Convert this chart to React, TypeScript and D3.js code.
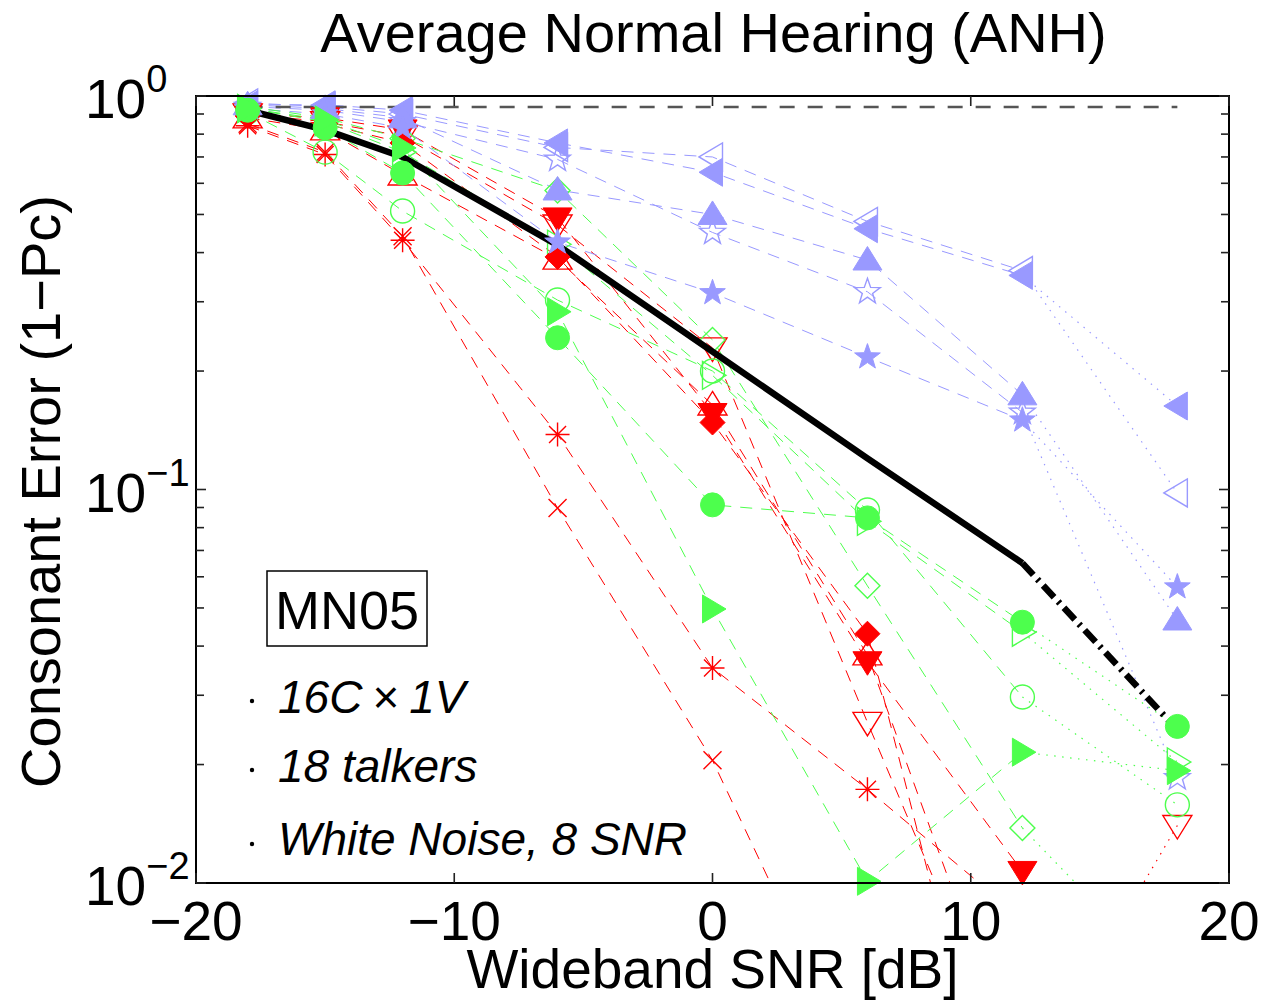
import React from 'react';
import * as d3 from 'd3';

// ---------------- data ----------------
const SNR = [-18, -15, -12, -6, 0, 6, 12, 18];
const X_TICKS = [-20, -10, 0, 10, 20];
const X_TICK_LABELS = ['\u221220', '\u221210', '0', '10', '20'];
const Y_DECADES = [1, 0.1, 0.01];
const Y_TICK_EXPONENTS = ['0', '\u22121', '\u22122'];
const CHANCE_ERROR = 15 / 16;

const AVERAGE = [0.92, 0.82, 0.7, 0.418, 0.224, 0.12, 0.065, 0.0245];

// red consonants
const RED_DOWN_FILLED = [0.9, 0.88, 0.82, 0.49, 0.156, 0.0365, 0.0107, null];
const RED_DOWN_OPEN = [0.9, 0.86, 0.79, 0.47, 0.229, 0.0256, 0.003, 0.014];
const RED_DIAMOND_FILLED = [0.89, 0.85, 0.76, 0.39, 0.148, 0.043, 0.0012, null];
const RED_UP_OPEN = [0.88, 0.82, 0.63, 0.385, 0.164, 0.038, 0.0031, null];
const RED_ASTERISK = [0.84, 0.71, 0.43, 0.138, 0.0352, 0.0173, 0.0081, null];
const RED_CROSS = [0.85, 0.72, 0.44, 0.0897, 0.0205, 0.003, null, null];

// blue consonants
const BLUE_LEFT_FILLED = [0.95, 0.95, 0.92, 0.76, 0.64, 0.46, 0.35, 0.163];
const BLUE_LEFT_OPEN = [0.96, 0.94, 0.9, 0.74, 0.7, 0.48, 0.36, 0.098];
const BLUE_UP_FILLED = [0.95, 0.93, 0.88, 0.577, 0.5, 0.383, 0.174, 0.0466];
const BLUE_STAR_OPEN = [0.94, 0.92, 0.86, 0.69, 0.45, 0.318, 0.157, 0.0185];
const BLUE_STAR_FILLED = [0.93, 0.9, 0.83, 0.425, 0.316, 0.217, 0.15, 0.0565];

// green consonants
const GREEN_CIRCLE_FILLED = [0.92, 0.83, 0.637, 0.243, 0.0914, 0.0847, 0.046, 0.025];
const GREEN_CIRCLE_OPEN = [0.91, 0.72, 0.51, 0.303, 0.2, 0.0887, 0.0297, 0.0158];
const GREEN_RIGHT_FILLED = [0.93, 0.87, 0.738, 0.283, 0.0497, 0.0101, 0.0215, 0.0193];
const GREEN_RIGHT_OPEN = [0.93, 0.86, 0.72, 0.42, 0.195, 0.083, 0.0434, 0.0203];
const GREEN_DIAMOND_OPEN = [0.94, 0.88, 0.78, 0.575, 0.24, 0.0569, 0.0138, 0.0054];

const RED = '#ff0000';
const BLUE = '#9999ff';
const GREEN = '#4dff4d';

type Series = { values: (number | null)[]; color: string; shape: string; filled: boolean };

const SERIES: Series[] = [
  { values: RED_DOWN_FILLED, color: RED, shape: 'down', filled: true },
  { values: RED_DOWN_OPEN, color: RED, shape: 'down', filled: false },
  { values: RED_DIAMOND_FILLED, color: RED, shape: 'diamond', filled: true },
  { values: RED_UP_OPEN, color: RED, shape: 'up', filled: false },
  { values: RED_ASTERISK, color: RED, shape: 'asterisk', filled: false },
  { values: RED_CROSS, color: RED, shape: 'cross', filled: false },
  { values: BLUE_LEFT_FILLED, color: BLUE, shape: 'left', filled: true },
  { values: BLUE_LEFT_OPEN, color: BLUE, shape: 'left', filled: false },
  { values: BLUE_UP_FILLED, color: BLUE, shape: 'up', filled: true },
  { values: BLUE_STAR_OPEN, color: BLUE, shape: 'star', filled: false },
  { values: BLUE_STAR_FILLED, color: BLUE, shape: 'star', filled: true },
  { values: GREEN_CIRCLE_FILLED, color: GREEN, shape: 'circle', filled: true },
  { values: GREEN_CIRCLE_OPEN, color: GREEN, shape: 'circle', filled: false },
  { values: GREEN_RIGHT_FILLED, color: GREEN, shape: 'right', filled: true },
  { values: GREEN_RIGHT_OPEN, color: GREEN, shape: 'right', filled: false },
  { values: GREEN_DIAMOND_OPEN, color: GREEN, shape: 'diamond', filled: false },
];

// ---------------- layout ----------------
const W = 1262;
const H = 1002;
const L = 196;
const R = 1229;
const T = 96;
const B = 883;
const FONT = "'Liberation Sans', Arial, Helvetica, sans-serif";

const x = d3.scaleLinear().domain([-20, 20]).range([L, R]);
const y = d3.scaleLog().domain([0.01, 1]).range([B, T]);

function starPath(ro: number, ri: number) {
  const pts: string[] = [];
  for (let i = 0; i < 10; i++) {
    const a = -Math.PI / 2 + (i * Math.PI) / 5;
    const r = i % 2 === 0 ? ro : ri;
    pts.push(`${(r * Math.cos(a)).toFixed(2)},${(r * Math.sin(a)).toFixed(2)}`);
  }
  return 'M' + pts.join('L') + 'Z';
}

function shapePath(shape: string): string {
  switch (shape) {
    case 'up':
      return 'M0,-13.5L14.5,10L-14.5,10Z';
    case 'down':
      return 'M0,13.5L14.5,-10L-14.5,-10Z';
    case 'left':
      return 'M-13.5,0L10,-14L10,14Z';
    case 'right':
      return 'M13.5,0L-10,-14L-10,14Z';
    case 'diamond':
      return 'M0,-12.5L12.5,0L0,12.5L-12.5,0Z';
    case 'circle':
      return d3.arc()({ innerRadius: 0, outerRadius: 12, startAngle: 0, endAngle: 2 * Math.PI }) as string;
    case 'star':
      return starPath(13.5, 5.4);
    case 'asterisk':
      return 'M0,-12L0,12M-12,0L12,0M-8.5,-8.5L8.5,8.5M-8.5,8.5L8.5,-8.5';
    case 'cross':
      return 'M-9,-9L9,9M-9,9L9,-9';
    default:
      return '';
  }
}

type Pt = [number, number | null];

const lineGen = d3
  .line<Pt>()
  .defined((d) => d[1] != null)
  .x((d) => x(d[0]))
  .y((d) => y(d[1] as number));

function pts(values: (number | null)[]): Pt[] {
  return SNR.map((s, i) => [s, values[i]] as Pt);
}

function inRange(v: number | null) {
  return v != null && v >= 0.01 && v <= 1;
}

export default function App() {
  const minorTicks: number[] = [];
  [0.01, 0.1].forEach((d) => {
    for (let k = 2; k <= 9; k++) minorTicks.push(d * k);
  });

  const markers = (s: Series, si: number) =>
    pts(s.values)
      .filter((p) => inRange(p[1]))
      .map((p, i) => (
        <path
          key={`m${si}-${i}`}
          d={shapePath(s.shape)}
          transform={`translate(${x(p[0])},${y(p[1] as number)})`}
          fill={s.filled && s.shape !== 'asterisk' && s.shape !== 'cross' ? s.color : 'none'}
          stroke={s.color}
          strokeWidth={s.filled ? 1 : 1.4}
        />
      ));

  const avgPts = pts(AVERAGE);

  return (
    <svg
      width={W}
      height={H}
      style={{ position: 'absolute', left: 0, top: 0, background: '#fff' }}
      fontFamily={FONT}
    >
      <defs>
        <clipPath id="plotclip">
          <rect x={L} y={T} width={R - L} height={B - T} />
        </clipPath>
      </defs>
      <rect x={0} y={0} width={W} height={H} fill="#fff" />

      {/* series lines */}
      <g clipPath="url(#plotclip)" fill="none">
        {SERIES.map((s, si) => {
          const p = pts(s.values);
          return (
            <g key={`l${si}`}>
              <path d={lineGen(p.slice(0, 7)) || ''} stroke={s.color} strokeWidth={1} strokeDasharray="12,9" />
              <path d={lineGen(p.slice(6, 8)) || ''} stroke={s.color} strokeWidth={1.2} strokeDasharray="1.5,6.5" />
            </g>
          );
        })}
      </g>

      {/* open markers */}
      <g>{SERIES.map((s, si) => (s.filled ? null : markers(s, si)))}</g>

      {/* chance line and average */}
      <g clipPath="url(#plotclip)" fill="none">
        <line
          x1={x(SNR[0])}
          x2={x(SNR[SNR.length - 1])}
          y1={y(CHANCE_ERROR)}
          y2={y(CHANCE_ERROR)}
          stroke="#555"
          strokeWidth={2.5}
          strokeDasharray="15,13"
        />
        <path d={lineGen(avgPts.slice(0, 7)) || ''} stroke="#000" strokeWidth={6.5} strokeLinejoin="round" />
        <path d={lineGen(avgPts.slice(6, 8)) || ''} stroke="#000" strokeWidth={6.5} strokeDasharray="16,6,2.5,6" />
      </g>

      {/* filled markers */}
      <g>{SERIES.map((s, si) => (s.filled ? markers(s, si) : null))}</g>

      {/* frame */}
      <rect x={L} y={T} width={R - L} height={B - T} fill="none" stroke="#000" strokeWidth={2} />
      <g stroke="#222" strokeWidth={1.6}>
        {X_TICKS.map((t) => (
          <g key={`xt${t}`}>
            <line x1={x(t)} x2={x(t)} y1={B} y2={B - 10} />
            <line x1={x(t)} x2={x(t)} y1={T} y2={T + 10} />
          </g>
        ))}
        {Y_DECADES.map((t) => (
          <g key={`yt${t}`}>
            <line x1={L} x2={L + 10} y1={y(t)} y2={y(t)} />
            <line x1={R} x2={R - 10} y1={y(t)} y2={y(t)} />
          </g>
        ))}
        {minorTicks.map((t) => (
          <g key={`ym${t}`}>
            <line x1={L} x2={L + 8} y1={y(t)} y2={y(t)} />
            <line x1={R} x2={R - 8} y1={y(t)} y2={y(t)} />
          </g>
        ))}
      </g>

      {/* tick labels */}
      <g fontSize={55} fill="#000" textAnchor="middle">
        {X_TICKS.map((t, i) => (
          <text key={`xl${t}`} x={x(t)} y={940}>
            {X_TICK_LABELS[i]}
          </text>
        ))}
      </g>
      <g fill="#000">
        {Y_DECADES.map((t, i) => (
          <text key={`yl${t}`} x={85} y={y(t) + 22} fontSize={55}>
            10
            <tspan dy={-26} fontSize={38}>
              {Y_TICK_EXPONENTS[i]}
            </tspan>
          </text>
        ))}
      </g>

      {/* titles */}
      <text x={(L + R) / 2 + 1} y={52} fontSize={56} textAnchor="middle">
        Average Normal Hearing (ANH)
      </text>
      <text x={(L + R) / 2} y={988} fontSize={55} textAnchor="middle">
        Wideband SNR [dB]
      </text>
      <text transform={`translate(60,${(T + B) / 2 + 2}) rotate(-90)`} fontSize={56} textAnchor="middle">
        Consonant Error (1{'\u2212'}Pc)
      </text>

      {/* annotation */}
      <rect x={267} y={571} width={160} height={75} fill="#fff" stroke="#000" strokeWidth={1.5} />
      <text x={347} y={629} fontSize={54} textAnchor="middle">
        MN05
      </text>
      <g fill="#000">
        <circle cx={252} cy={701} r={2.2} />
        <circle cx={252} cy={770} r={2.2} />
        <circle cx={252} cy={844} r={2.2} />
      </g>
      <g fontSize={46} fontStyle="italic">
        <text x={278} y={713}>
          16C
          <tspan fontStyle="normal" dx={10}>
            {'\u00d7'}
          </tspan>
          <tspan dx={10}>1V</tspan>
        </text>
        <text x={278} y={782}>
          18 talkers
        </text>
        <text x={278} y={855}>
          White Noise, 8 SNR
        </text>
      </g>
    </svg>
  );
}
